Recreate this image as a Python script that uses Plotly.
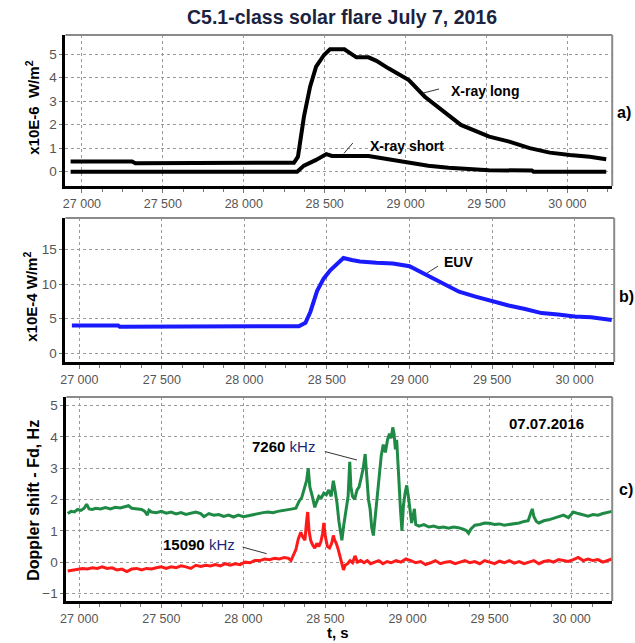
import plotly.graph_objects as go

# ---------------- data ----------------
# Panel a: GOES X-ray flux (x10E-6 W/m^2)
xl_t = [26930, 27310, 27330, 28300, 28310, 28335, 28372, 28410, 28447, 28496, 28533, 28622, 28659, 28696,
        28771, 28820, 28894, 29020, 29119, 29219, 29342, 29517, 29641, 29767, 29891, 30015, 30138, 30240]
xl_v = [0.43, 0.43, 0.36, 0.36, 0.38, 0.64, 2.34, 3.62, 4.47, 4.97, 5.21, 5.21, 5.06, 4.87,
        4.87, 4.72, 4.40, 3.90, 3.19, 2.63, 1.99, 1.49, 1.28, 1.00, 0.81, 0.71, 0.64, 0.53]
xs_t = [26930, 28330, 28372, 28447, 28510, 28545, 28771, 28894, 29020, 29140, 29266, 29390, 29515, 29780, 29790, 30240]
xs_v = [0.00, 0.00, 0.26, 0.50, 0.75, 0.67, 0.67, 0.53, 0.36, 0.25, 0.17, 0.10, 0.06, 0.05, 0.00, 0.00]

# Panel b: EUV (x10E-4 W/m^2)
euv_t = [26955, 27235, 27245, 28300, 28330, 28370, 28400, 28440, 28480, 28520, 28560, 28600, 28650, 28700,
         28800, 28900, 29000, 29100, 29200, 29300, 29400, 29500, 29600, 29700, 29800, 29900, 30000, 30100,
         30200, 30225]
euv_v = [4.0, 4.0, 3.8, 3.8, 3.9, 4.4, 6.0, 9.0, 10.8, 12.0, 13.0, 13.8, 13.5, 13.3,
         13.1, 13.0, 12.6, 11.4, 10.1, 8.9, 8.2, 7.5, 6.9, 6.4, 5.8, 5.6, 5.3, 5.2,
         4.9, 4.8]

# Panel c: Doppler shift (Hz)
f7260_t = [26930, 26950, 26970, 26990, 27010, 27030, 27045, 27060, 27080, 27100,
           27130, 27160, 27190, 27220, 27250, 27280, 27300, 27320, 27350, 27380,
           27400, 27415, 27425, 27440, 27470, 27500, 27530, 27560, 27590, 27620,
           27650, 27680, 27710, 27740, 27760, 27790, 27820, 27850, 27880, 27910,
           27940, 27970, 28000, 28030, 28060, 28090, 28120, 28150, 28180, 28210,
           28240, 28270, 28300, 28320, 28340, 28355, 28370, 28385, 28395, 28405,
           28420, 28435, 28445, 28460, 28475, 28490, 28505, 28520, 28535, 28548,
           28558, 28570, 28582, 28592, 28600, 28612, 28625, 28638, 28648, 28655,
           28665, 28678, 28692, 28705, 28718, 28730, 28742, 28752, 28762, 28772,
           28782, 28792, 28802, 28815, 28828, 28840, 28852, 28865, 28878, 28890,
           28900, 28910, 28918, 28926, 28934, 28942, 28950, 28958, 28966, 28975,
           28985, 28995, 29005, 29015, 29025, 29035, 29042, 29050, 29070, 29100,
           29130, 29160, 29190, 29220, 29250, 29280, 29310, 29340, 29360, 29372,
           29385, 29410, 29440, 29470, 29500, 29530, 29560, 29590, 29620, 29650,
           29680, 29710, 29735, 29750, 29760, 29770, 29785, 29800, 29830, 29860,
           29890, 29920, 29950, 29980, 30010, 30040, 30070, 30100, 30130, 30160,
           30190, 30220, 30245]
f7260_v = [1.55, 1.62, 1.60, 1.68, 1.65, 1.72, 1.85, 1.70, 1.68, 1.72,
           1.70, 1.74, 1.70, 1.75, 1.73, 1.78, 1.80, 1.72, 1.70, 1.68,
           1.62, 1.50, 1.66, 1.60, 1.58, 1.62, 1.56, 1.60, 1.54, 1.58,
           1.52, 1.56, 1.60, 1.55, 1.45, 1.55, 1.50, 1.52, 1.46, 1.50,
           1.44, 1.50, 1.45, 1.48, 1.52, 1.55, 1.58, 1.60, 1.58, 1.62,
           1.64, 1.66, 1.70, 1.72, 1.95, 2.05, 2.30, 2.60, 3.00, 2.40,
           2.10, 1.75, 1.90, 2.10, 2.05, 2.20, 2.15, 2.30, 2.10, 2.60,
           2.30, 1.90, 1.30, 0.90, 0.70, 1.20, 1.60, 2.10, 3.20, 2.40,
           2.10, 2.00, 2.30, 2.40, 2.70, 3.00, 3.45, 2.60, 2.00, 1.70,
           1.10, 0.85, 1.40, 2.20, 2.80, 3.40, 3.75, 3.50, 3.90, 4.10,
           3.95, 4.30, 4.10, 3.60, 3.90, 3.00, 2.50, 1.60, 1.00, 1.80,
           2.20, 2.45, 2.10, 1.60, 1.25, 1.50, 1.70, 1.20, 1.15, 1.20,
           1.12, 1.15, 1.10, 1.12, 1.08, 1.12, 1.10, 1.05, 1.00, 0.92,
           1.05, 1.18, 1.20, 1.25, 1.24, 1.20, 1.22, 1.18, 1.20, 1.22,
           1.25, 1.30, 1.32, 1.55, 1.70, 1.45, 1.30, 1.25, 1.32, 1.35,
           1.40, 1.45, 1.50, 1.42, 1.60, 1.55, 1.50, 1.47, 1.52, 1.50,
           1.55, 1.58, 1.62]

f15090_t = [26930, 26960, 26990, 27020, 27050, 27080, 27110, 27140, 27170, 27200,
            27230, 27260, 27290, 27320, 27350, 27380, 27410, 27440, 27470, 27500,
            27530, 27560, 27590, 27620, 27650, 27680, 27710, 27740, 27770, 27800,
            27830, 27860, 27890, 27920, 27950, 27980, 28010, 28040, 28070, 28100,
            28130, 28160, 28190, 28220, 28250, 28275, 28290, 28305, 28320, 28335,
            28350, 28362, 28375, 28385, 28392, 28400, 28410, 28422, 28435, 28448,
            28460, 28472, 28482, 28490, 28500, 28512, 28525, 28538, 28548, 28556,
            28566, 28578, 28590, 28600, 28610, 28620, 28635, 28650, 28665, 28680,
            28695, 28715, 28735, 28755, 28775, 28800, 28825, 28850, 28875, 28900,
            28930, 28960, 28990, 29020, 29050, 29080, 29110, 29140, 29170, 29200,
            29230, 29260, 29290, 29320, 29350, 29380, 29410, 29440, 29470, 29500,
            29530, 29560, 29590, 29620, 29650, 29680, 29710, 29740, 29770, 29800,
            29830, 29860, 29890, 29920, 29950, 29980, 30010, 30040, 30070, 30100,
            30130, 30160, 30190, 30220, 30245]
f15090_v = [-0.28, -0.25, -0.22, -0.20, -0.22, -0.18, -0.20, -0.15, -0.20, -0.18,
            -0.25, -0.22, -0.30, -0.22, -0.20, -0.25, -0.20, -0.22, -0.18, -0.15,
            -0.20, -0.15, -0.18, -0.12, -0.15, -0.20, -0.10, -0.14, -0.10, -0.12,
            -0.08, -0.12, -0.05, -0.10, -0.05, -0.08, 0.00, -0.02, 0.05, 0.05,
            0.10, 0.08, 0.12, 0.10, 0.15, 0.12, 0.05, 0.20, 0.40, 0.75,
            0.95, 0.80, 0.70, 1.30, 1.60, 1.00, 0.70, 0.55, 0.45, 0.60,
            0.50, 0.65, 0.90, 1.25, 0.80, 0.50, 0.45, 0.60, 0.85, 0.70,
            0.60, 0.40, 0.15, -0.10, -0.25, -0.10, -0.05, 0.05, -0.02, 0.20,
            0.00, 0.05, -0.02, 0.05, -0.05, 0.00, 0.05, -0.05, 0.02, -0.02,
            0.05, 0.00, 0.10, 0.05, -0.02, 0.02, -0.08, -0.02, 0.05, -0.05,
            0.00, 0.02, -0.05, 0.00, 0.05, -0.02, 0.02, -0.05, 0.05, 0.00,
            -0.05, 0.03, -0.02, 0.05, -0.03, 0.02, -0.05, 0.00, 0.05, -0.05,
            0.02, 0.05, 0.00, 0.08, 0.05, 0.02, 0.08, 0.15, 0.05, 0.10,
            0.05, 0.08, 0.00, 0.05, 0.10]

assert len(f7260_t) == len(f7260_v)
assert len(f15090_t) == len(f15090_v)

x_tickvals = [27000, 27500, 28000, 28500, 29000, 29500, 30000]
x_ticktext = ["27 000", "27 500", "28 000", "28 500", "29 000", "29 500", "30 000"]
ya_ticks = [0, 1, 2, 3, 4, 5]
yb_ticks = [0, 5, 10, 15]
yc_ticks = [-1, 0, 1, 2, 3, 4, 5]

# ---------------- figure ----------------
W, H = 635, 643
FONT = "Liberation Sans, Arial, sans-serif"

def px(v):
    return v / W

def py(v):
    return 1 - v / H

fig = go.Figure()
fig.add_trace(go.Scatter(x=xl_t, y=xl_v, mode="lines", line=dict(color="black", width=4), xaxis="x", yaxis="y"))
fig.add_trace(go.Scatter(x=xs_t, y=xs_v, mode="lines", line=dict(color="black", width=4), xaxis="x", yaxis="y"))
fig.add_trace(go.Scatter(x=euv_t, y=euv_v, mode="lines", line=dict(color="#1a1aff", width=4), xaxis="x2", yaxis="y2"))
fig.add_trace(go.Scatter(x=f7260_t, y=f7260_v, mode="lines", line=dict(color="#1f8a45", width=3), xaxis="x3", yaxis="y3"))
fig.add_trace(go.Scatter(x=f15090_t, y=f15090_v, mode="lines", line=dict(color="#ff1a1a", width=3), xaxis="x3", yaxis="y3"))

grid = dict(showgrid=True, gridcolor="#9a9a9a", gridwidth=1, griddash="3px,3px", zeroline=False)
tickf = dict(family=FONT, size=12.5, color="#555555")

def xaxis(domain, rng, anchor):
    return dict(domain=domain, range=rng, anchor=anchor, tickmode="array", tickvals=x_tickvals,
                ticktext=x_ticktext, tickfont=tickf, ticks="outside", ticklen=4, tickcolor="#777",
                showline=True, linecolor="black", linewidth=3,
                minor=dict(tickmode="linear", tick0=27000, dtick=125, ticks="outside", ticklen=3,
                           tickcolor="#777", showgrid=False),
                **grid)

def yaxis(domain, rng, anchor, ticks):
    return dict(domain=domain, range=rng, anchor=anchor, tickmode="array", tickvals=ticks,
                tickfont=dict(family=FONT, size=13.5, color="#555555"), ticks="outside", ticklen=3,
                tickcolor="#777", showline=True, linecolor="black", linewidth=3, **grid)

da = [py(186), py(35)]
db = [py(362), py(218)]
dc = [py(601), py(397)]

fig.update_layout(
    width=W, height=H, margin=dict(l=0, r=0, t=0, b=0),
    paper_bgcolor="white", plot_bgcolor="white", showlegend=False,
    font=dict(family=FONT),
    xaxis=xaxis([px(60), px(612)], [26898, 30277], "y"),
    yaxis=yaxis(da, [-0.61, 5.82], "x", ya_ticks),
    xaxis2=xaxis([px(60), px(614)], [26916, 30240], "y2"),
    yaxis2=yaxis(db, [-1.3, 19.6], "x2", yb_ticks),
    xaxis3=xaxis([px(61), px(612)], [26922, 30247], "y3"),
    yaxis3=yaxis(dc, [-1.24, 5.27], "x3", yc_ticks),
)

shapes = []
for xr, yr in [("x", "y"), ("x2", "y2"), ("x3", "y3")]:
    shapes.append(dict(type="line", xref=xr + " domain", yref=yr + " domain", x0=0, x1=1, y0=1, y1=1,
                       line=dict(color="#8a8a8a", width=2)))
    shapes.append(dict(type="line", xref=xr + " domain", yref=yr + " domain", x0=1, x1=1, y0=0, y1=1,
                       line=dict(color="#8a8a8a", width=2)))
# leader lines (data coordinates)
lead = dict(color="#333333", width=1)
shapes.append(dict(type="line", xref="x", yref="y", x0=29109, y0=3.35, x1=29207, y1=3.52, line=lead))
shapes.append(dict(type="line", xref="x", yref="y", x0=28619, y0=0.78, x1=28674, y1=1.22, line=lead))
shapes.append(dict(type="line", xref="x2", yref="y2", x0=29106, y0=11.6, x1=29172, y1=12.6, line=lead))
shapes.append(dict(type="line", xref="x3", yref="y3", x0=28496, y0=3.53, x1=28692, y1=3.26, line=lead))
shapes.append(dict(type="line", xref="x3", yref="y3", x0=27995, y0=0.48, x1=28142, y1=0.27, line=lead))
fig.update_layout(shapes=shapes)

ann = []
def pa(text, x, y, size=13, angle=0, color="black", xanchor="center"):
    ann.append(dict(text=text, x=px(x), y=py(y), xref="paper", yref="paper", showarrow=False,
                    textangle=angle, xanchor=xanchor, yanchor="middle",
                    font=dict(family=FONT, size=size, color=color)))

pa("<b>C5.1-class solar flare July 7, 2016</b>", 339, 17, size=19.5, color="#1c2340")
pa("<b>x10E-6  W/m<sup>2</sup></b>", 27, 108, size=15, angle=-90)
pa("<b>x10E-4 W/m<sup>2</sup></b>", 25, 297, size=15, angle=-90)
pa("<b>Doppler shift - Fd, Hz</b>", 27, 500, size=16, angle=-90)
pa("<b>t, s</b>", 335, 632, size=15)
pa("<b>a)</b>", 624, 112, size=16)
pa("<b>b)</b>", 626, 297, size=16)
pa("<b>c)</b>", 626, 489, size=16)

def da_(text, x, y, xr, yr, size=14):
    ann.append(dict(text=text, x=x, y=y, xref=xr, yref=yr, showarrow=False,
                    font=dict(family=FONT, size=size, color="black")))

da_("<b>X-ray long</b>", 29491, 3.43, "x", "y")
da_("<b>X-ray short</b>", 29007, 1.1, "x", "y")
da_("<b>EUV</b>", 29298, 13.2, "x2", "y2")
da_("<b>07.07.2016</b>", 29846, 4.43, "x3", "y3", size=15)
da_("<b>7260</b> <span style='color:#1a2a7a'>kHz</span>", 28244, 3.69, "x3", "y3", size=15)
da_("<b>15090</b> <span style='color:#1a2a7a'>kHz</span>", 27731, 0.57, "x3", "y3", size=15)
fig.update_layout(annotations=ann)

fig.write_html("out.html", config={"displayModeBar": False},
               post_script="document.body.style.margin='0';document.body.style.overflow='hidden';")
